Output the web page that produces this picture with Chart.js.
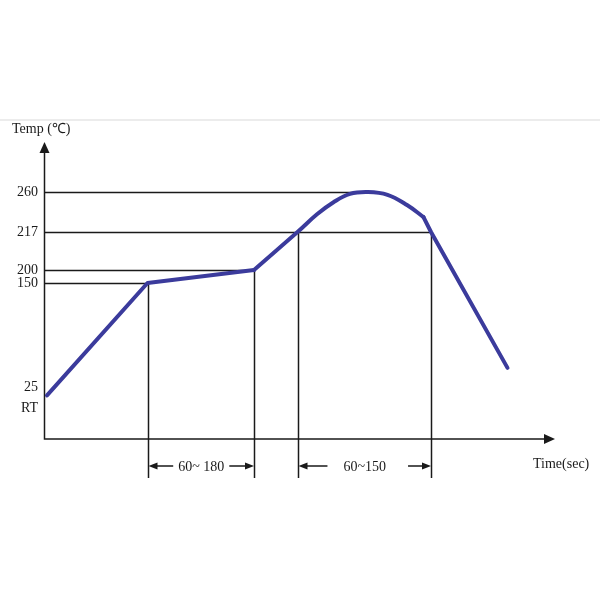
<!DOCTYPE html>
<html lang="en">
<head>
    <meta charset="UTF-8">
    <title>Reflow Profile</title>
    <script src="https://cdn.jsdelivr.net/npm/chart.js"></script>
    <style>
        html, body { margin: 0; padding: 0; background: #fff; }
        canvas { display: block; }
    </style>
</head>
<body>
    <canvas id="profileChart" width="600" height="600"></canvas>

    <script>
        // ramp / soak (straight parts) in [time s, temp C]
        const rampTimes = [2, 69, 140];
        const rampTemps = [23, 150, 200];
        // reflow dome
        const domeTimes = [140, 169, 182, 193, 204, 216, 229, 242, 253];
        const domeTemps = [200, 217, 236, 249, 258, 260, 257, 246, 233];
        // cooling
        const coolTimes = [253, 258, 309];
        const coolTemps = [233, 217, 48];

        const yTickValues = [260, 217, 200, 150, 25, 20];
        const yTickLabels = ['260', '217', '200', '150', '25', 'RT'];

        // dimension marks under the axis
        const spanLabels = ['60~ 180', '60~150'];
        const spanStarts = [69, 169];
        const spanEnds = [140, 258];

        const lineColor = '#3b3b9c';
        const inkColor = '#1a1a1a';
        const serif = '"Liberation Serif", "Times New Roman", serif';

        // schematic temperature axis: not linear, the picture squeezes 150..200
        class ProfileScale extends Chart.LinearScale {
            getPixelForValue(value) {
                const a = this.options.anchors, f = this.options.fractions;
                let d = f[f.length - 1];
                for (let i = 1; i < a.length; i++) {
                    if (value <= a[i]) {
                        d = f[i - 1] + (value - a[i - 1]) / (a[i] - a[i - 1]) * (f[i] - f[i - 1]);
                        break;
                    }
                }
                return this.getPixelForDecimal(d);
            }
            getValueForPixel(pixel) {
                const a = this.options.anchors, f = this.options.fractions;
                const d = this.getDecimalForPixel(pixel);
                for (let i = 1; i < f.length; i++) {
                    if (d <= f[i]) return a[i - 1] + (d - f[i - 1]) / (f[i] - f[i - 1]) * (a[i] - a[i - 1]);
                }
                return a[a.length - 1];
            }
        }
        ProfileScale.id = 'profile';
        ProfileScale.defaults = Chart.LinearScale.defaults;
        Chart.register(ProfileScale);

        function pts(xs, ys) {
            return xs.map((x, i) => ({ x: x, y: ys[i] }));
        }

        function arrowHead(ctx, x, y, dir, len, half) {
            // dir: 'up', 'right', 'left'
            ctx.beginPath();
            if (dir === 'up') {
                ctx.moveTo(x, y); ctx.lineTo(x - half, y + len); ctx.lineTo(x + half, y + len);
            } else if (dir === 'right') {
                ctx.moveTo(x, y); ctx.lineTo(x - len, y - half); ctx.lineTo(x - len, y + half);
            } else {
                ctx.moveTo(x, y); ctx.lineTo(x + len, y - half); ctx.lineTo(x + len, y + half);
            }
            ctx.closePath();
            ctx.fill();
        }

        const guidesPlugin = {
            id: 'guides',
            beforeDatasetsDraw(chart) {
                const ctx = chart.ctx;
                const area = chart.chartArea;
                const xs = chart.scales.x, ys = chart.scales.y;
                const dimY = area.bottom + 27;
                const guideBottom = area.bottom + 39;
                const peakIdx = domeTemps.indexOf(Math.max(...domeTemps));

                ctx.save();
                // faint page divider
                ctx.fillStyle = '#ececec';
                ctx.fillRect(0, 119, chart.width, 2);

                ctx.strokeStyle = inkColor;
                ctx.lineWidth = 1.5;

                // horizontal guides: level -> time where profile hits it
                const hGuides = [
                    [260, domeTimes[peakIdx] - 8],
                    [217, coolTimes[1]],
                    [200, rampTimes[2]],
                    [150, rampTimes[1]]
                ];
                hGuides.forEach(g => {
                    const y = Math.round(ys.getPixelForValue(g[0])) + 0.5;
                    ctx.beginPath();
                    ctx.moveTo(area.left, y);
                    ctx.lineTo(xs.getPixelForValue(g[1]), y);
                    ctx.stroke();
                });

                // vertical guides
                const vGuides = [
                    [rampTimes[1], rampTemps[1]],
                    [rampTimes[2], rampTemps[2]],
                    [domeTimes[1], domeTemps[1]],
                    [coolTimes[1], coolTemps[1]]
                ];
                vGuides.forEach(g => {
                    const x = Math.round(xs.getPixelForValue(g[0])) + 0.5;
                    ctx.beginPath();
                    ctx.moveTo(x, ys.getPixelForValue(g[1]));
                    ctx.lineTo(x, guideBottom);
                    ctx.stroke();
                });

                // axes with arrows
                ctx.fillStyle = inkColor;
                ctx.beginPath();
                ctx.moveTo(area.left + 0.5, area.top + 6);
                ctx.lineTo(area.left + 0.5, area.bottom);
                ctx.lineTo(area.right - 6, area.bottom);
                ctx.stroke();
                arrowHead(ctx, area.left + 0.5, area.top - 3, 'up', 11, 5);
                arrowHead(ctx, area.right + 1, area.bottom, 'right', 11, 5);

                // dimension arrows with labels
                ctx.font = '14px ' + serif;
                ctx.textAlign = 'center';
                ctx.textBaseline = 'middle';
                spanLabels.forEach((label, i) => {
                    const x0 = xs.getPixelForValue(spanStarts[i]) + 1;
                    const x1 = xs.getPixelForValue(spanEnds[i]);
                    const mid = (x0 + x1) / 2;
                    const half = ctx.measureText(label).width / 2;
                    const gap = i === 0 ? 5 : 16;
                    ctx.beginPath();
                    ctx.moveTo(x0 + 8, dimY);
                    ctx.lineTo(mid - half - gap, dimY);
                    ctx.moveTo(mid + half + gap + (i === 0 ? 0 : 6), dimY);
                    ctx.lineTo(x1 - 8, dimY);
                    ctx.stroke();
                    arrowHead(ctx, x0, dimY, 'left', 9, 3.5);
                    arrowHead(ctx, x1, dimY, 'right', 9, 3.5);
                    ctx.fillText(label, mid, dimY + 1);
                });

                // axis titles
                ctx.textAlign = 'left';
                ctx.fillText('Temp (\u2103)', 12, 129);
                ctx.fillText('Time(sec)', area.right - 21, area.bottom + 25);
                ctx.restore();
            }
        };

        const ds = {
            borderColor: lineColor,
            borderWidth: 4,
            pointRadius: 0,
            fill: false,
            borderCapStyle: 'round',
            borderJoinStyle: 'round'
        };

        new Chart(document.getElementById('profileChart'), {
            type: 'line',
            data: {
                datasets: [
                    Object.assign({ label: 'Ramp', data: pts(rampTimes, rampTemps), tension: 0 }, ds),
                    Object.assign({ label: 'Reflow', data: pts(domeTimes, domeTemps), tension: 0.4 }, ds),
                    Object.assign({ label: 'Cool', data: pts(coolTimes, coolTemps), tension: 0 }, ds)
                ]
            },
            options: {
                responsive: false,
                animation: false,
                layout: { padding: { left: 0, right: 46, top: 145, bottom: 161 } },
                plugins: {
                    legend: { display: false },
                    tooltip: { enabled: false }
                },
                scales: {
                    x: {
                        type: 'linear',
                        display: false,
                        min: 0,
                        max: 340
                    },
                    y: {
                        type: 'profile',
                        min: 0,
                        max: 300,
                        anchors: [0, 20, 25, 150, 200, 217, 260, 300],
                        fractions: [0, 0.1054, 0.1769, 0.5306, 0.5748, 0.7041, 0.8401, 1],
                        afterFit: s => { s.width = 44; },
                        afterBuildTicks: s => {
                            s.ticks = yTickValues.map(v => ({ value: v }));
                        },
                        grid: { display: false, drawTicks: false },
                        border: { display: false },
                        ticks: {
                            autoSkip: false,
                            padding: 6,
                            color: inkColor,
                            font: { family: serif, size: 14 },
                            callback: v => yTickLabels[yTickValues.indexOf(v)]
                        }
                    }
                }
            },
            plugins: [guidesPlugin]
        });
    </script>
</body>
</html>
